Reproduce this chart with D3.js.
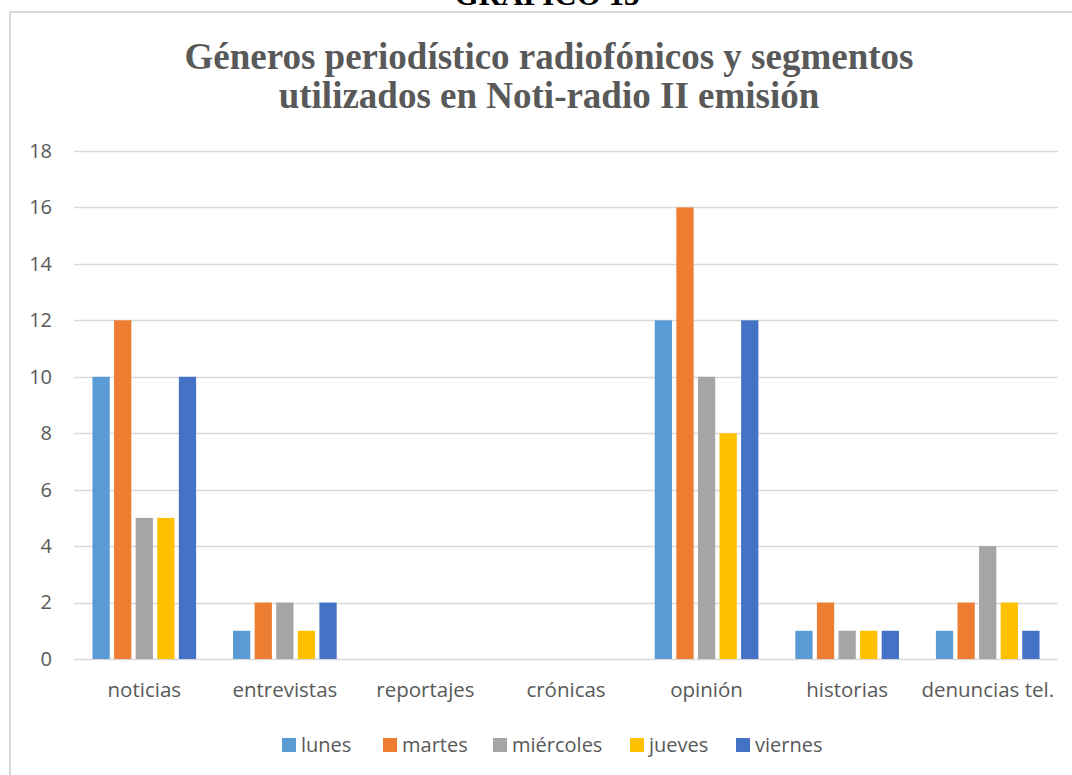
<!DOCTYPE html>
<html>
<head>
<meta charset="utf-8">
<script src="https://cdn.jsdelivr.net/npm/d3@7"></script>
<style>
  body { margin: 0; background: #fff; }
  text { font-family: "Open Sans", "Noto Sans", sans-serif; fill: #595959; }
  .serif { font-family: "Liberation Serif", "Times New Roman", serif; font-weight: bold; }
</style>
</head>
<body>
<svg id="chart" width="1072" height="775"></svg>
<script>
const categories = ["noticias", "entrevistas", "reportajes", "crónicas", "opinión", "historias", "denuncias tel."];
const series = ["lunes", "martes", "miércoles", "jueves", "viernes"];
const colors = ["#5B9BD5", "#ED7D31", "#A5A5A5", "#FFC000", "#4472C4"];
const lunes     = [10, 1, 0, 0, 12, 1, 1];
const martes    = [12, 2, 0, 0, 16, 2, 2];
const miercoles = [5, 2, 0, 0, 10, 1, 4];
const jueves    = [5, 1, 0, 0, 8, 1, 2];
const viernes   = [10, 2, 0, 0, 12, 1, 1];
const yTicks = [0, 2, 4, 6, 8, 10, 12, 14, 16, 18];

const values = [lunes, martes, miercoles, jueves, viernes];
const rows = categories.map((c, i) => ({
  cat: c,
  vals: series.map((s, j) => ({ key: s, value: values[j][i], color: colors[j] }))
}));

const svg = d3.select("#chart");

// outer frame
svg.append("rect")
  .attr("x", 10).attr("y", 12)
  .attr("width", 1080).attr("height", 790)
  .attr("fill", "none")
  .attr("stroke", "#d9d9d9")
  .attr("stroke-width", 2);

// heading above frame, mostly cut off
svg.append("text")
  .attr("class", "serif")
  .attr("x", 547).attr("y", 5)
  .attr("text-anchor", "middle")
  .style("fill", "#000")
  .style("font-size", "31px")
  .text("GRAFICO 13");

const title = svg.append("text")
  .attr("class", "serif")
  .attr("text-anchor", "middle")
  .style("font-size", "37px");
title.append("tspan").attr("x", 549).attr("y", 69).text("Géneros periodístico radiofónicos y segmentos");
title.append("tspan").attr("x", 549).attr("y", 108).text("utilizados en Noti-radio II emisión");

const plotLeft = 74, plotRight = 1058, plotTop = 151, plotBottom = 659;

const y = d3.scaleLinear().domain([0, 18]).range([plotBottom, plotTop]);
const x0 = d3.scaleBand().domain(categories).range([plotLeft, plotRight]).paddingInner(0.232).paddingOuter(0.116);
const x1 = d3.scaleBand().domain(series).range([0, x0.bandwidth()]).paddingInner(0.2).paddingOuter(0.1);

// gridlines
svg.append("g")
  .selectAll("line")
  .data(yTicks)
  .enter()
  .append("line")
  .attr("x1", plotLeft).attr("x2", plotRight)
  .attr("y1", d => Math.round(y(d)) + 0.5)
  .attr("y2", d => Math.round(y(d)) + 0.5)
  .attr("stroke", "#d9d9d9")
  .attr("stroke-width", 1.5);

// y axis labels
const yAxis = svg.append("g")
  .attr("transform", `translate(${plotLeft},0)`)
  .call(d3.axisLeft(y).tickValues(yTicks).tickSize(0).tickPadding(22));
yAxis.select(".domain").remove();
yAxis.selectAll("text")
  .style("font-size", "20px")
  .style("fill", "#595959")
  .style("font-family", "'Open Sans', sans-serif");

// bars
const groups = svg.append("g")
  .selectAll("g")
  .data(rows)
  .enter()
  .append("g")
  .attr("transform", d => `translate(${x0(d.cat)},0)`);

groups.selectAll("rect")
  .data(d => d.vals.filter(v => v.value > 0))
  .enter()
  .append("rect")
  .attr("x", d => x1(d.key))
  .attr("y", d => y(d.value))
  .attr("width", x1.bandwidth())
  .attr("height", d => y(0) - y(d.value))
  .attr("fill", d => d.color);

// x axis labels
const xAxis = svg.append("g")
  .attr("transform", `translate(0,${plotBottom})`)
  .call(d3.axisBottom(x0).tickSize(0).tickPadding(23));
xAxis.select(".domain").remove();
xAxis.selectAll("text")
  .style("font-size", "20.5px")
  .style("fill", "#595959")
  .style("font-family", "'Open Sans', sans-serif");

// legend
const legendX = [282, 383, 493, 630, 736];
const legend = svg.append("g")
  .selectAll("g")
  .data(series)
  .enter()
  .append("g")
  .attr("transform", (d, i) => `translate(${legendX[i]},738)`);
legend.append("rect")
  .attr("width", 14).attr("height", 14)
  .attr("fill", (d, i) => colors[i]);
legend.append("text")
  .attr("x", 19).attr("y", 14)
  .style("font-size", "20px")
  .text(d => d);
</script>
</body>
</html>
